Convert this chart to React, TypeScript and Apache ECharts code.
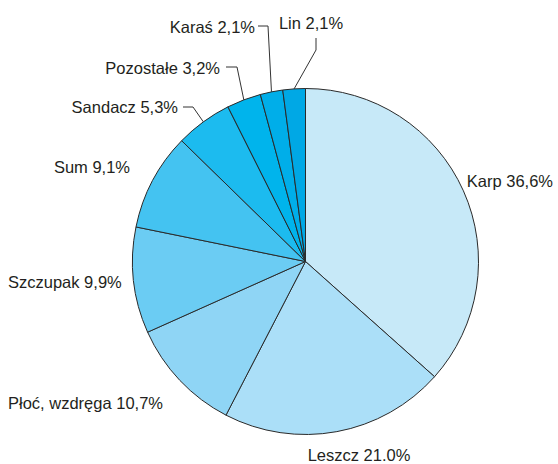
import React, { useEffect, useRef } from "react";
import * as echarts from "echarts";

const categories = ["Karp", "Leszcz", "Płoć, wzdręga", "Szczupak", "Sum", "Sandacz", "Pozostałe", "Karaś", "Lin"];
const values = [36.6, 21.0, 10.7, 9.9, 9.1, 5.3, 3.2, 2.1, 2.1];
const valueLabels = ["36,6%", "21.0%", "10,7%", "9,9%", "9,1%", "5,3%", "3,2%", "2,1%", "2,1%"];
const colors = ["#c7e9f8", "#abdff8", "#8fd5f5", "#6bccf3", "#44c3f1", "#1cbbef", "#00b4ec", "#00aee9", "#00a8e5"];
const withLine = [false, false, false, false, false, true, true, true, true];

// label placement: [x, y, align]
const labelPos: [number, number, string][] = [
  [553, 181, "right"],
  [359, 455, "center"],
  [8, 403, "left"],
  [8, 282, "left"],
  [130, 167, "right"],
  [178, 107, "right"],
  [220, 68, "right"],
  [255, 27, "right"],
  [311, 23, "center"],
];
// leader-line bends: [elbow, end]
const linePts: Record<number, number[][]> = {
  5: [[193, 107], [183, 107]],
  6: [[237, 67], [226, 67]],
  7: [[268, 26], [258, 26]],
  8: [[316, 50], [316, 38]],
};

export default function App() {
  const ref = useRef<HTMLDivElement>(null);
  useEffect(() => {
    const chart = echarts.init(ref.current!, null, { renderer: "svg" });
    chart.setOption({
      animation: false,
      backgroundColor: "#ffffff",
      series: [
        {
          type: "pie",
          center: [305.5, 261.5],
          radius: 173,
          startAngle: 90,
          clockwise: true,
          avoidLabelOverlap: false,
          minShowLabelAngle: 0,
          itemStyle: { borderColor: "#2a2a2a", borderWidth: 1 },
          label: {
            show: true,
            position: "outside",
            color: "#231f20",
            fontFamily: "'Liberation Sans', Arial, Helvetica, sans-serif",
            fontSize: 16.5,
            lineHeight: 18,
            formatter: (p: any) => `${categories[p.dataIndex]} ${valueLabels[p.dataIndex]}`,
          },
          labelLine: { show: true, lineStyle: { color: "#333333", width: 1 } },
          labelLayout: (p: any) => {
            const i = p.dataIndex;
            const [x, y, align] = labelPos[i];
            const out: any = { x, y, align, verticalAlign: "middle" };
            if (withLine[i] && p.labelLinePoints) {
              const start = p.labelLinePoints[0];
              out.labelLinePoints = [start, ...linePts[i]];
            }
            return out;
          },
          data: categories.map((name, i) => ({
            name,
            value: values[i],
            itemStyle: { color: colors[i] },
            labelLine: { show: withLine[i] },
          })),
        },
      ],
    });
    return () => chart.dispose();
  }, []);
  return <div ref={ref} style={{ position: "absolute", left: 0, top: 0, width: 558, height: 464 }} />;
}
